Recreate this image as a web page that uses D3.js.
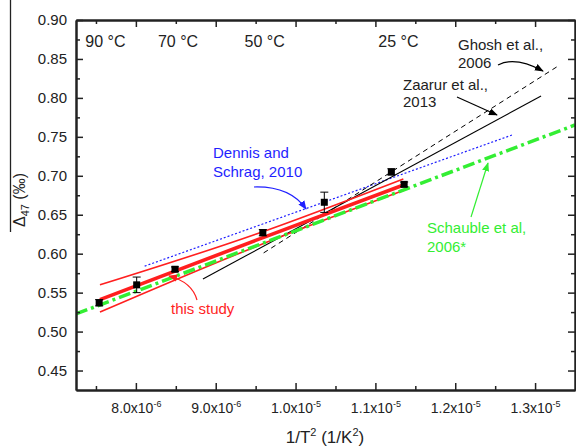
<!DOCTYPE html>
<html lang="en"><head><meta charset="UTF-8">
<title>D47 vs 1/T2</title>
<script src="https://d3js.org/d3.v7.min.js"></script>
<style>
  body { margin: 0; background: #fff; }
  text { font-family: "Liberation Sans", Arial, sans-serif; }
</style>
</head>
<body>
<script>

// data points (1/T^2, D47, error)
var ptX = [7.54e-6, 8.01e-6, 8.49e-6, 9.59e-6, 1.036e-5, 1.12e-5, 1.136e-5];
var ptY = [0.537, 0.560, 0.580, 0.627, 0.666, 0.705, 0.689];
var ptErr = [0.004, 0.010, 0.003, 0.004, 0.013, 0.004, 0.003];

// this study : fit and bands (read at three x positions)
var fitX = [7.55e-6, 9.5e-6, 1.135e-5];
var fitMid = [0.541, 0.617, 0.688];
var fitUp = [0.560, 0.625, 0.696];
var fitLow = [0.525, 0.609, 0.681];

// other calibrations [x0, x1], [y0, y1]
var ghoshX = [9.6e-6, 1.3275e-5], ghoshY = [0.601, 0.840];
var zaarurX = [8.84e-6, 1.3075e-5], zaarurY = [0.5675, 0.8024];
var dennisX = [8.11e-6, 1.2713e-5], dennisY = [0.584, 0.7524];
var schaubleX = [7.25e-6, 1.35e-5], schaubleY = [0.5226, 0.7652];

// temperature labels
var tempLabels = ["90 °C", "70 °C", "50 °C", "25 °C"];
var tempInvT2 = [7.58e-6, 8.49e-6, 9.576e-6, 1.125e-5];

// ticks
var xTickVals = [8e-6, 9e-6, 1e-5, 1.1e-5, 1.2e-5, 1.3e-5];
var xTickMant = ["8.0", "9.0", "1.0", "1.1", "1.2", "1.3"];
var xTickExp = ["-6", "-6", "-5", "-5", "-5", "-5"];
var xMinor = [7.5e-6, 8.5e-6, 9.5e-6, 1.05e-5, 1.15e-5, 1.25e-5];
var yTickVals = [0.45, 0.50, 0.55, 0.60, 0.65, 0.70, 0.75, 0.80, 0.85, 0.90];
var yMinor = [0.475, 0.525, 0.575, 0.625, 0.675, 0.725, 0.775, 0.825, 0.875];

var w = 576, h = 448;
var x = d3.scaleLinear().domain([7.25e-6, 1.35e-5]).range([76, 575]);
var y = d3.scaleLinear().domain([0.425, 0.90]).range([390, 20]);

var svg = d3.select("body").append("svg").attr("width", w).attr("height", h);

var defs = svg.append("defs");
defs.append("clipPath").attr("id", "plot")
    .append("rect").attr("x", 76).attr("y", 20).attr("width", 499).attr("height", 370);
function marker(id, col) {
  defs.append("marker").attr("id", id)
      .attr("viewBox", "0 0 10 10").attr("refX", 9).attr("refY", 5)
      .attr("markerWidth", 9).attr("markerHeight", 9).attr("markerUnits", "userSpaceOnUse")
      .attr("orient", "auto")
      .append("path").attr("d", "M0,1 L10,5 L0,9 z").attr("fill", col);
}
marker("arrK", "#000");
marker("arrB", "#1f1fff");
marker("arrR", "#ff1f1f");
marker("arrG", "#33ee33");

var g = svg.append("g").attr("clip-path", "url(#plot)");

function seg(xs, ys, col, wdt, dash) {
  g.append("line")
   .attr("x1", x(xs[0])).attr("y1", y(ys[0]))
   .attr("x2", x(xs[1])).attr("y2", y(ys[1]))
   .attr("stroke", col).attr("stroke-width", wdt)
   .attr("stroke-dasharray", dash);
}

seg(dennisX, dennisY, "#1f1fff", 1.2, "2,2");
seg(ghoshX, ghoshY, "#000", 1, "5,4");
seg(zaarurX, zaarurY, "#000", 1.1, null);

var fitLine = d3.line().x(function(d) { return x(d[0]); }).y(function(d) { return y(d[1]); })
    .curve(d3.curveMonotoneX);
[fitUp, fitLow].forEach(function(b) {
  g.append("path").datum(d3.zip(fitX, b)).attr("d", fitLine)
   .attr("fill", "none").attr("stroke", "#ff1f1f").attr("stroke-width", 1.6);
});
g.append("path").datum(d3.zip(fitX, fitMid)).attr("d", fitLine)
 .attr("fill", "none").attr("stroke", "#ff1f1f").attr("stroke-width", 3.6);

seg(schaubleX, schaubleY, "#33ee33", 3.5, "12,4,3,4");

// points with error bars
var pts = d3.zip(ptX, ptY, ptErr);
var pg = g.selectAll(".pt").data(pts).enter().append("g");
pg.append("line")
  .attr("x1", function(d) { return x(d[0]); }).attr("x2", function(d) { return x(d[0]); })
  .attr("y1", function(d) { return y(d[1] - d[2]); }).attr("y2", function(d) { return y(d[1] + d[2]); })
  .attr("stroke", "#000").attr("stroke-width", 1);
[-1, 1].forEach(function(s) {
  pg.append("line")
    .attr("x1", function(d) { return x(d[0]) - 4; }).attr("x2", function(d) { return x(d[0]) + 4; })
    .attr("y1", function(d) { return y(d[1] + s * d[2]); }).attr("y2", function(d) { return y(d[1] + s * d[2]); })
    .attr("stroke", "#000").attr("stroke-width", 1);
});
pg.append("rect")
  .attr("x", function(d) { return x(d[0]) - 3.5; }).attr("y", function(d) { return y(d[1]) - 3.5; })
  .attr("width", 7).attr("height", 7).attr("fill", "#000");

// axes
function styleAxis(sel) {
  sel.select(".domain").attr("stroke", "#222").attr("stroke-width", 2);
  sel.selectAll(".tick line").attr("stroke", "#222").attr("stroke-width", 1.5);
  sel.selectAll("text").attr("font-size", "15px").attr("fill", "#222");
}
var xb = svg.append("g").attr("transform", "translate(0,390)")
  .call(d3.axisBottom(x).tickValues(xTickVals).tickSizeInner(-7).tickSizeOuter(0).tickFormat(function() { return ""; }));
styleAxis(xb);
xb.selectAll(".tick").append("text")
  .attr("y", 23).attr("text-anchor", "middle").attr("fill", "#222").attr("font-size", "14px")
  .each(function(d, i) {
    var t = d3.select(this);
    t.append("tspan").text(xTickMant[i] + "x10");
    t.append("tspan").attr("dy", -6).attr("font-size", "9px").text(xTickExp[i]);
  });
svg.append("g").attr("transform", "translate(0,390)")
  .call(d3.axisBottom(x).tickValues(xMinor).tickSizeInner(-4).tickSizeOuter(0).tickFormat(""))
  .call(styleAxis);
svg.append("g").attr("transform", "translate(0,20)")
  .call(d3.axisTop(x).tickValues(xTickVals).tickSizeInner(-7).tickSizeOuter(0).tickFormat(""))
  .call(styleAxis);
svg.append("g").attr("transform", "translate(0,20)")
  .call(d3.axisTop(x).tickValues(xMinor).tickSizeInner(-4).tickSizeOuter(0).tickFormat(""))
  .call(styleAxis);

svg.append("g").attr("transform", "translate(76,0)")
  .call(d3.axisLeft(y).tickValues(yTickVals).tickSizeInner(-7).tickSizeOuter(0).tickPadding(9).tickFormat(d3.format(".2f")))
  .call(styleAxis);
svg.append("g").attr("transform", "translate(76,0)")
  .call(d3.axisLeft(y).tickValues(yMinor).tickSizeInner(-4).tickSizeOuter(0).tickFormat(""))
  .call(styleAxis);
svg.append("g").attr("transform", "translate(575,0)")
  .call(d3.axisRight(y).tickValues(yTickVals).tickSizeInner(-7).tickSizeOuter(0).tickFormat(""))
  .call(styleAxis);
svg.append("g").attr("transform", "translate(575,0)")
  .call(d3.axisRight(y).tickValues(yMinor).tickSizeInner(-4).tickSizeOuter(0).tickFormat(""))
  .call(styleAxis);

// axis titles
var xt = svg.append("text").attr("x", 325).attr("y", 443).attr("text-anchor", "middle")
  .attr("font-size", "17px").attr("fill", "#222");
xt.append("tspan").text("1/T");
xt.append("tspan").attr("dy", -7).attr("font-size", "11px").text("2");
xt.append("tspan").attr("dy", 7).text(" (1/K");
xt.append("tspan").attr("dy", -7).attr("font-size", "11px").text("2");
xt.append("tspan").attr("dy", 7).text(")");

var yt = svg.append("text").attr("transform", "translate(25,200) rotate(-90)")
  .attr("text-anchor", "middle").attr("font-size", "16px").attr("fill", "#222");
yt.append("tspan").text("Δ");
yt.append("tspan").attr("dy", 4).attr("font-size", "11px").text("47");
yt.append("tspan").attr("dy", -4).text(" (‰)");
svg.append("line").attr("x1", 10.5).attr("x2", 10.5).attr("y1", 0).attr("y2", 232)
  .attr("stroke", "#222").attr("stroke-width", 1.3);

// temperature labels
svg.selectAll(".temp").data(tempLabels).enter().append("text")
  .attr("x", function(d, i) { return x(tempInvT2[i]) + 3; }).attr("y", 47)
  .attr("text-anchor", "middle").attr("font-size", "16px").attr("fill", "#222")
  .text(function(d) { return d; });

// annotations
function label(lines, x0, y0, col, dy) {
  var t = svg.append("text").attr("x", x0).attr("y", y0).attr("font-size", "15px").attr("fill", col);
  lines.forEach(function(s, i) {
    t.append("tspan").attr("x", x0).attr("dy", i ? dy : 0).text(s);
  });
}
label(["Ghosh et al.,", "2006"], 458, 50, "#222", 18);
label(["Zaarur et al.,", "2013"], 403, 90, "#222", 17);
label(["Dennis and", "Schrag, 2010"], 213, 158, "#1f1fff", 19);
label(["this study"], 171, 314, "#ff1f1f", 0);
label(["Schauble et al,", "2006*"], 427, 233, "#33ee33", 19);

svg.append("path").attr("d", "M498,65 Q515,56 543,71")
  .attr("fill", "none").attr("stroke", "#000").attr("stroke-width", 1.2).attr("marker-end", "url(#arrK)");
svg.append("path").attr("d", "M457,97 L497,115")
  .attr("fill", "none").attr("stroke", "#000").attr("stroke-width", 1.2).attr("marker-end", "url(#arrK)");
svg.append("path").attr("d", "M254,187 Q290,186 306,209")
  .attr("fill", "none").attr("stroke", "#1f1fff").attr("stroke-width", 1.2).attr("marker-end", "url(#arrB)");
svg.append("path").attr("d", "M197,300 Q192,282 169,276")
  .attr("fill", "none").attr("stroke", "#ff1f1f").attr("stroke-width", 1.2).attr("marker-end", "url(#arrR)");
svg.append("path").attr("d", "M471,217 L488,163")
  .attr("fill", "none").attr("stroke", "#33ee33").attr("stroke-width", 1.2).attr("marker-end", "url(#arrG)");

</script>
</body>
</html>
